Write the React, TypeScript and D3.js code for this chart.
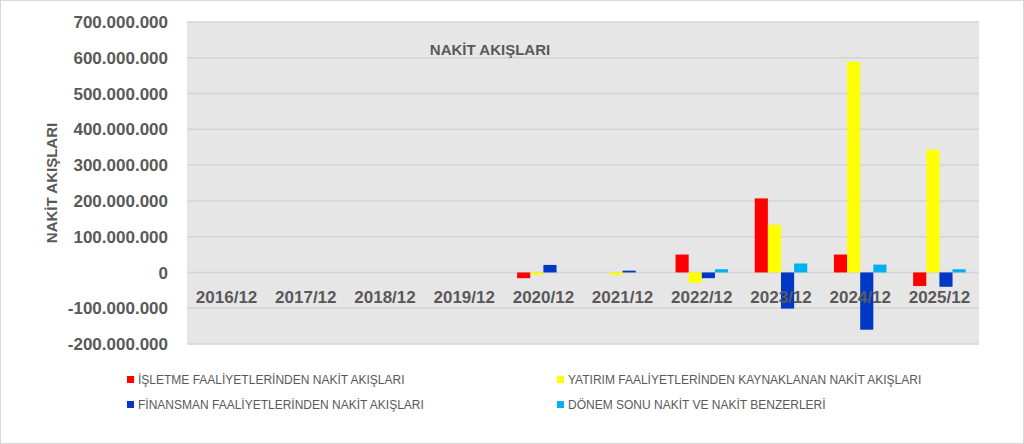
import * as React from 'react';
import * as d3 from 'd3';

const categories = ['2016/12', '2017/12', '2018/12', '2019/12', '2020/12', '2021/12', '2022/12', '2023/12', '2024/12', '2025/12'];
const isletme = [0, 0, 0, 0, -16e6, 0, 50e6, 207e6, 50e6, -38e6];
const yatirim = [0, 0, 0, 0, -6e6, -7e6, -29e6, 133e6, 589e6, 343e6];
const finansman = [0, 0, 0, 0, 21e6, 5e6, -16e6, -101e6, -160e6, -40e6];
const donem = [0, 0, 0, 0, 0, 0, 9e6, 25e6, 22e6, 9e6];
const seriesNames = [
  'İŞLETME FAALİYETLERİNDEN NAKİT AKIŞLARI',
  'YATIRIM FAALİYETLERİNDEN KAYNAKLANAN NAKİT AKIŞLARI',
  'FİNANSMAN FAALİYETLERİNDEN NAKİT AKIŞLARI',
  'DÖNEM SONU NAKİT VE NAKİT BENZERLERİ',
];
const seriesValues = [isletme, yatirim, finansman, donem];
const seriesColors = ['#ff0000', '#ffff00', '#0038c6', '#00b0f0'];
const yTicks = [-200e6, -100e6, 0, 100e6, 200e6, 300e6, 400e6, 500e6, 600e6, 700e6];

const W = 1024;
const H = 444;
const plot = { left: 187, right: 979, top: 22, bottom: 344 };
const font = '"Liberation Sans", Arial, sans-serif';
const textGray = '#595959';

const fmt = d3.formatLocale({ decimal: ',', thousands: '.', grouping: [3], currency: ['', ''], minus: '-' }).format(',d');

export default function App() {
  const x = d3.scaleBand<string>().domain(categories).range([plot.left, plot.right]);
  const bw = x.bandwidth();
  const gw = bw * 0.663;
  const x1 = d3.scaleBand<number>().domain([0, 1, 2, 3]).range([(bw - gw) / 2, (bw + gw) / 2]);
  const y = d3.scaleLinear().domain([-200e6, 700e6]).range([plot.bottom, plot.top]);
  const y0 = y(0);

  // legend positions: two columns, two rows
  const legendPos = [
    { x: 127, y: 380 },
    { x: 557, y: 380 },
    { x: 127, y: 405 },
    { x: 557, y: 405 },
  ];

  return (
    <svg width={W} height={H} style={{ position: 'absolute', left: 0, top: 0, background: '#fff' }}>
      <rect x={0.5} y={0.5} width={W - 1} height={H - 1} fill="#fff" stroke="#d9d9d9" />
      <rect x={plot.left} y={plot.top} width={plot.right - plot.left} height={plot.bottom - plot.top} fill="#e7e6e6" />
      {yTicks.map((t) => (
        <g key={t}>
          <line x1={plot.left} x2={plot.right} y1={y(t)} y2={y(t)} stroke="#d4d4d4" strokeWidth={1.5} />
          <text x={168} y={y(t)} dy="0.36em" textAnchor="end" fontFamily={font} fontWeight="bold" fontSize={17} fill={textGray}>
            {fmt(t)}
          </text>
        </g>
      ))}
      {seriesValues.map((vals, si) =>
        vals.map((v, ci) => (
          <rect
            key={si + '-' + ci}
            x={(x(categories[ci]) as number) + (x1(si) as number)}
            width={x1.bandwidth()}
            y={Math.min(y(v), y0)}
            height={Math.abs(y(v) - y0)}
            fill={seriesColors[si]}
          />
        ))
      )}
      {categories.map((c) => (
        <text key={c} x={(x(c) as number) + bw / 2} y={303} textAnchor="middle" fontFamily={font} fontWeight="bold" fontSize={17} fill={textGray}>
          {c}
        </text>
      ))}
      <text x={490} y={55} textAnchor="middle" fontFamily={font} fontWeight="bold" fontSize={15} fill={textGray}>
        NAKİT AKIŞLARI
      </text>
      <text transform="translate(57,183) rotate(-90)" textAnchor="middle" fontFamily={font} fontWeight="bold" fontSize={15} fill={textGray}>
        NAKİT AKIŞLARI
      </text>
      {seriesNames.map((n, i) => (
        <g key={n} transform={`translate(${legendPos[i].x},${legendPos[i].y})`}>
          <rect x={0} y={-4} width={7} height={7} fill={seriesColors[i]} />
          <text x={11} y={0} dy="0.35em" fontFamily={font} fontSize={12} fill={textGray}>
            {n}
          </text>
        </g>
      ))}
    </svg>
  );
}
